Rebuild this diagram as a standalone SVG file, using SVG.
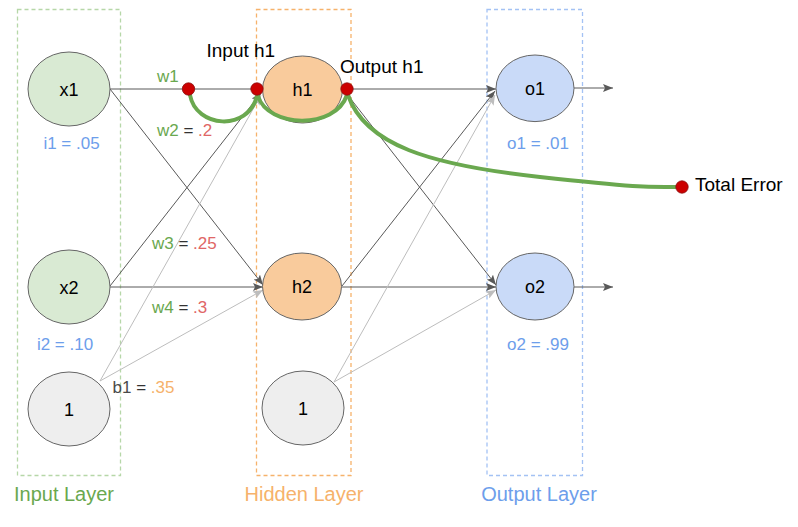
<svg xmlns="http://www.w3.org/2000/svg" width="798" height="527" viewBox="0 0 798 527">
<style>
text{font-family:"Liberation Sans",Arial,sans-serif}
.layer{fill:none;stroke-width:1.3;stroke-dasharray:4 3}
.node{stroke:#666;stroke-width:1}
.in{fill:#d9ead3}.hid{fill:#f9cb9c}.out{fill:#c9daf8}.bias{fill:#eeeeee}
.nt{font-size:18px;fill:#000;text-anchor:middle}
.big{font-size:19px;fill:#000}
.val{font-size:17px;fill:#6d9eeb;text-anchor:middle}
.lbl{font-size:17px}
.g{fill:#6aa84f}.r{fill:#e06666}.k{fill:#333}.o{fill:#f6b26b}
.dark{stroke:#595959;stroke-width:1;fill:none}
.light{stroke:#bdbdbd;stroke-width:1;fill:none}
.curve{stroke:#6aa84f;stroke-width:4;fill:none;stroke-linecap:round}
.dot{fill:#cc0000;stroke:#8a1010;stroke-width:0.8}
.ll{font-size:20px;text-anchor:middle}
</style>
<defs>
<marker id="ad" viewBox="0 0 10 8" refX="10" refY="4" markerWidth="10" markerHeight="8" markerUnits="userSpaceOnUse" orient="auto"><path d="M0,0 L10,4 L0,8 L2,4 Z" fill="#595959"/></marker>
<marker id="al" viewBox="0 0 10 8" refX="10" refY="4" markerWidth="10" markerHeight="8" markerUnits="userSpaceOnUse" orient="auto"><path d="M0,0 L10,4 L0,8 L2,4 Z" fill="#bdbdbd"/></marker>
</defs>
<g id="layers">
<rect class="layer" x="17.5" y="9.5" width="103" height="466" stroke="#b6d7a8"/>
<rect class="layer" x="256.5" y="9.5" width="94.5" height="466" stroke="#f6b26b"/>
<rect class="layer" x="487" y="9.5" width="95.5" height="466" stroke="#a4c2f4"/>
<text class="ll" x="64" y="501" fill="#6aa84f">Input Layer</text>
<text class="ll" x="304" y="501" fill="#f6b26b">Hidden Layer</text>
<text class="ll" x="539" y="501" fill="#6d9eeb">Output Layer</text>
</g>
<g id="connectors">
<line class="dark" x1="110" y1="89" x2="262" y2="89" marker-end="url(#ad)"/>
<line class="dark" x1="110" y1="89" x2="263" y2="285" marker-end="url(#ad)"/>
<line class="dark" x1="110" y1="286" x2="261" y2="93" marker-end="url(#ad)"/>
<line class="dark" x1="110" y1="287" x2="263" y2="287" marker-end="url(#ad)"/>
<line class="light" x1="100" y1="381" x2="261" y2="95" marker-end="url(#al)"/>
<line class="light" x1="100" y1="381" x2="263" y2="290" marker-end="url(#al)"/>
<line class="dark" x1="343" y1="89" x2="496" y2="89" marker-end="url(#ad)"/>
<line class="dark" x1="343" y1="89" x2="496" y2="285" marker-end="url(#ad)"/>
<line class="dark" x1="342" y1="286" x2="495" y2="91" marker-end="url(#ad)"/>
<line class="dark" x1="342" y1="287" x2="496" y2="287" marker-end="url(#ad)"/>
<line class="light" x1="334" y1="382" x2="495" y2="95" marker-end="url(#al)"/>
<line class="light" x1="334" y1="382" x2="496" y2="290" marker-end="url(#al)"/>
<line class="dark" x1="574" y1="88" x2="613" y2="88" marker-end="url(#ad)"/>
<line class="dark" x1="574" y1="287" x2="613" y2="287" marker-end="url(#ad)"/>
</g>
<g id="x1"><ellipse class="node in" cx="69" cy="89" rx="41" ry="37"/><text class="nt" x="69" y="95.5">x1</text><text class="val" x="71.5" y="149">i1 = .05</text></g>
<g id="x2"><ellipse class="node in" cx="69" cy="287" rx="41" ry="37"/><text class="nt" x="69" y="293.5">x2</text><text class="val" x="65" y="350">i2 = .10</text></g>
<g id="b1"><ellipse class="node bias" cx="69" cy="409" rx="41" ry="37"/><text class="nt" x="69" y="415.5">1</text></g>
<g id="h1"><ellipse class="node hid" cx="302.5" cy="89.5" rx="40" ry="33.5"/><text class="nt" x="302.5" y="96">h1</text></g>
<g id="h2"><ellipse class="node hid" cx="302" cy="286.5" rx="39.5" ry="33.5"/><text class="nt" x="302" y="293">h2</text></g>
<g id="b2"><ellipse class="node bias" cx="303" cy="408" rx="41" ry="37"/><text class="nt" x="303" y="414.5">1</text></g>
<g id="o1"><ellipse class="node out" cx="535" cy="88.3" rx="39" ry="33.3"/><text class="nt" x="535" y="95">o1</text><text class="val" x="538" y="149">o1 = .01</text></g>
<g id="o2"><ellipse class="node out" cx="535" cy="286.5" rx="39" ry="33.5"/><text class="nt" x="535" y="293">o2</text><text class="val" x="538" y="350">o2 = .99</text></g>
<g id="weights">
<text class="lbl g" x="157" y="82">w1</text>
<text class="lbl" x="157" y="136"><tspan class="g">w2</tspan><tspan class="k"> = </tspan><tspan class="r">.2</tspan></text>
<text class="lbl" x="152" y="248.5"><tspan class="g">w3</tspan><tspan class="k"> = </tspan><tspan class="r">.25</tspan></text>
<text class="lbl" x="152" y="312.5"><tspan class="g">w4</tspan><tspan class="k"> = </tspan><tspan class="r">.3</tspan></text>
<text class="lbl" x="112.5" y="392.5"><tspan fill="#4a4a4a">b1</tspan><tspan class="k"> = </tspan><tspan class="o">.35</tspan></text>
</g>
<g id="paths">
<path class="curve" d="M190 95 C196 128 248 132 257 96"/>
<path class="curve" d="M258 96 C268 128 335 130 347 95"/>
<path class="curve" d="M348 95 C365 145 430 165 540 177 S650 187 682 187"/>
</g>
<g id="dots">
<circle class="dot" cx="188.5" cy="89" r="6.2"/>
<circle class="dot" cx="257" cy="89" r="6.2"/>
<circle class="dot" cx="347" cy="89" r="6.2"/>
<circle class="dot" cx="682" cy="187" r="6.2"/>
</g>
<g id="labels">
<text class="big" x="206.5" y="57">Input h1</text>
<text class="big" x="340" y="73.3">Output h1</text>
<text class="big" x="695" y="191">Total Error</text>
</g>
</svg>
